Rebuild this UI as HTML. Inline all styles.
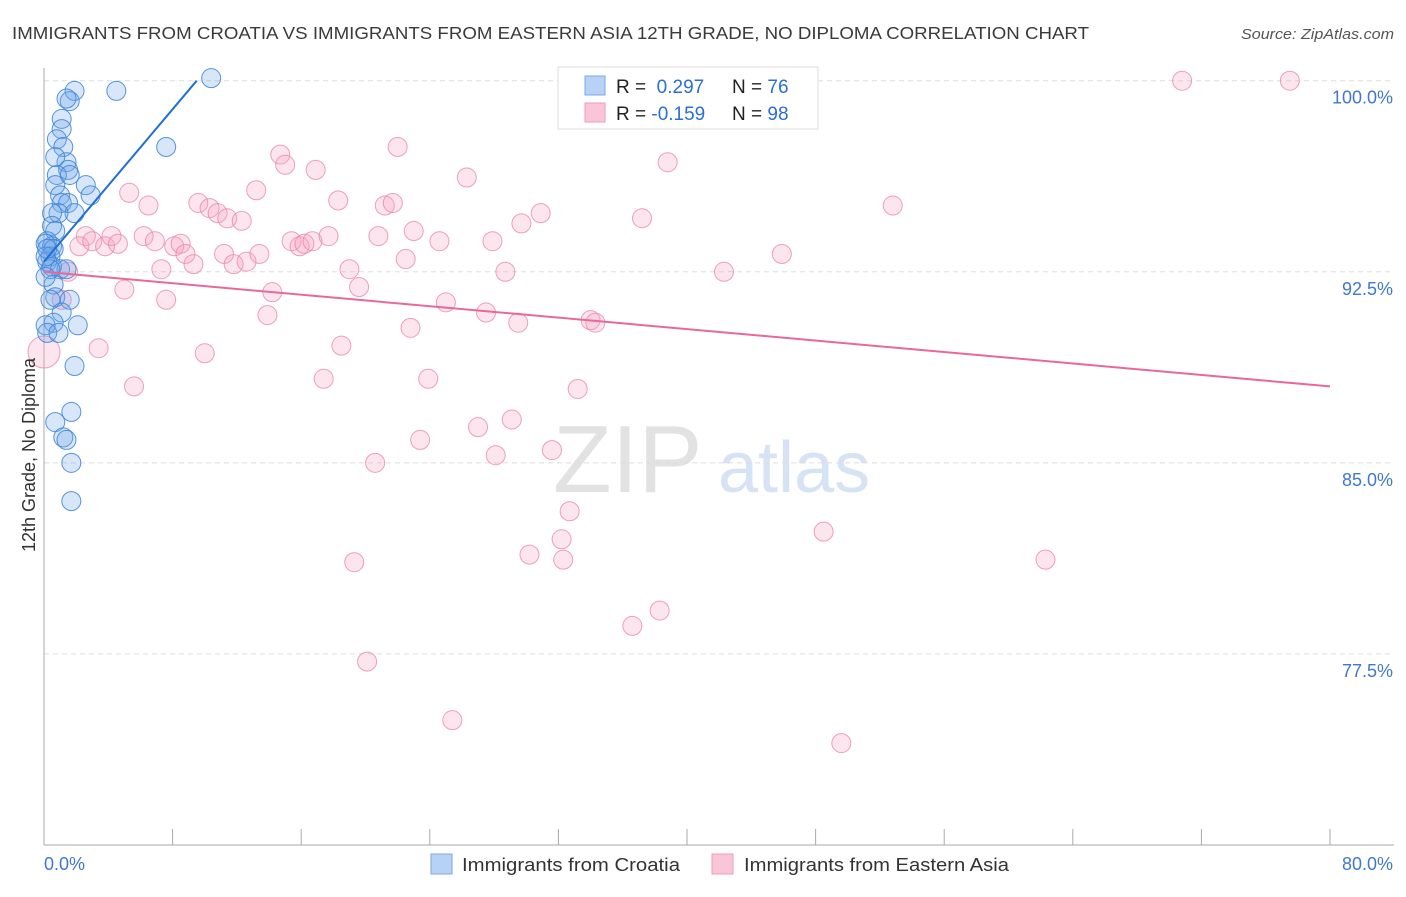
<!DOCTYPE html>
<html><head><meta charset="utf-8">
<style>
body{margin:0;background:#fff;width:1406px;height:892px;overflow:hidden;font-family:"Liberation Sans",sans-serif;}
svg text{font-family:"Liberation Sans",sans-serif;}
</style></head>
<body>
<svg id="chart" width="1406" height="892" viewBox="0 0 1406 892" xmlns="http://www.w3.org/2000/svg">
<text x="12" y="39" font-size="17.5" fill="#3a3a3a" textLength="1077" lengthAdjust="spacingAndGlyphs">IMMIGRANTS FROM CROATIA VS IMMIGRANTS FROM EASTERN ASIA 12TH GRADE, NO DIPLOMA CORRELATION CHART</text>
<text x="1394" y="39" font-size="15" fill="#555" font-style="italic" text-anchor="end" textLength="153" lengthAdjust="spacingAndGlyphs">Source: ZipAtlas.com</text>
<g>
<text x="553" y="492" font-size="96" fill="#e2e2e2" font-family="Liberation Serif, serif">ZIP</text>
<text x="718" y="492" font-size="72" fill="#d6e3f5">atlas</text>
</g>
<g id="grid"></g>
<g id="axes"></g>
<g id="marks"></g>
<text transform="translate(35,455) rotate(-90)" font-size="18" fill="#333" text-anchor="middle">12th Grade, No Diploma</text>
<g>
<rect x="558" y="67" width="260" height="62" fill="#fff" stroke="#ddd"/>
<rect x="585" y="76" width="20" height="19" fill="#b7d2f5" stroke="#7aaae6"/>
<rect x="585" y="103" width="20" height="19" fill="#fac6d6" stroke="#f09ab8"/>
<text x="616" y="93" font-size="19" fill="#222">R = <tspan fill="#2a6fd1">&#160;0.297</tspan></text>
<text x="732" y="93" font-size="19" fill="#222">N = <tspan fill="#2a6fd1">76</tspan></text>
<text x="616" y="120" font-size="19" fill="#222">R = <tspan fill="#2a6fd1">-0.159</tspan></text>
<text x="732" y="120" font-size="19" fill="#222">N = <tspan fill="#2a6fd1">98</tspan></text>
</g>
<g>
<rect x="431" y="854" width="21" height="20" fill="#b7d2f5" stroke="#7aaae6"/>
<text x="462" y="871" font-size="18.5" fill="#333" textLength="218" lengthAdjust="spacingAndGlyphs">Immigrants from Croatia</text>
<rect x="712" y="854" width="21" height="20" fill="#fac6d6" stroke="#f09ab8"/>
<text x="744" y="871" font-size="18.5" fill="#333" textLength="265" lengthAdjust="spacingAndGlyphs">Immigrants from Eastern Asia</text>
</g>
</svg>
<script>
const yTicks=[100,92.5,85,77.5];
const yTickLabels=["100.0%","92.5%","85.0%","77.5%"];
const xTickLabels=["0.0%","80.0%"];
const blueX=[1.9,1.6,1.4,4.5,10.4,7.6,1.1,1.1,0.8,1.2,1.4,0.7,1.5,0.8,1.6,0.7,2.6,2.9,1.0,1.1,1.5,1.9,0.9,0.5,0.5,0.7,0.2,0.5,0.1,0.6,0.4,0.2,0.5,1.0,1.4,0.6,0.7,1.6,0.4,1.1,0.6,2.1,0.1,0.2,0.9,1.9,1.7,0.7,1.2,1.4,1.7,1.7,0.4,0.1,0.1,0.2];
const blueY=[99.6,99.2,99.3,99.6,100.1,97.4,98.5,98.1,97.7,97.4,96.8,97.0,96.5,96.3,96.3,95.9,95.9,95.5,95.5,95.2,95.2,94.8,94.8,94.8,94.3,94.1,93.7,93.5,93.6,93.4,93.1,92.9,92.7,92.6,92.6,92.0,91.5,91.4,91.4,90.9,90.5,90.4,90.4,90.1,90.1,88.8,87.0,86.6,86.0,85.9,85.0,83.5,92.6,92.3,93.1,93.4];
const pinkX=[0.0,1.5,1.1,2.6,2.2,3.0,3.8,4.2,4.6,3.4,5.3,5.0,5.6,6.5,6.2,6.9,7.3,7.6,8.1,8.5,8.8,9.3,9.6,10.0,10.3,10.8,11.2,11.4,11.8,12.3,12.6,13.2,13.4,13.9,14.2,14.7,15.0,15.4,15.9,16.2,16.7,16.9,17.4,17.7,18.3,18.5,19.0,19.3,19.6,20.1,20.6,20.8,21.2,21.7,22.0,22.5,22.8,23.0,23.4,23.9,24.6,25.0,25.4,26.3,27.0,27.5,27.9,28.1,28.7,29.1,29.5,29.7,30.2,30.9,31.6,32.2,32.3,32.7,33.2,34.0,34.3,36.6,37.2,38.3,38.8,42.3,45.9,48.5,49.6,52.8,62.3,70.8,77.5,37.8,43.1,39.3];
const pinkY=[89.35,92.5,91.4,93.9,93.5,93.7,93.5,93.9,93.6,89.5,95.6,91.8,88.0,95.1,93.9,93.7,92.6,91.4,93.5,93.6,93.2,92.8,95.2,89.3,95.0,94.8,93.2,94.6,92.8,94.5,92.9,95.7,93.2,90.8,91.7,97.1,96.7,93.7,93.5,93.6,93.7,96.5,88.3,93.9,95.3,89.6,92.6,81.1,91.9,77.2,85.0,93.9,95.1,95.2,97.4,93.0,90.3,94.1,85.9,88.3,93.7,91.3,74.9,96.2,86.4,90.9,93.7,85.3,92.5,86.7,90.5,94.4,81.4,94.8,85.5,82.0,81.2,83.1,87.9,90.6,90.5,78.6,94.6,79.2,96.8,92.5,93.2,82.3,74.0,95.1,81.2,100.0,100.0,100.0,100.0,99.6];
const blueTrendX=[0,9.5];
const blueTrendY=[92.9,100];
const pinkTrendX=[0,80];
const pinkTrendY=[92.5,88.0];

const NS="http://www.w3.org/2000/svg";
const X0=44,X1=1330,YTOP=80.7,YBOT=845;
function sx(v){return X0+(v/80)*(X1-X0);}
function sy(v){return YTOP+(100-v)/30*(YBOT-YTOP);}
function mk(tag,attrs,parent){const e=document.createElementNS(NS,tag);for(const k in attrs)e.setAttribute(k,attrs[k]);parent.appendChild(e);return e;}
const grid=document.getElementById('grid'),axes=document.getElementById('axes'),marks=document.getElementById('marks');
yTicks.forEach((t,i)=>{
  const l=mk('line',{x1:X0,x2:1394,y1:sy(t),y2:sy(t),stroke:'#ddd','stroke-dasharray':'5,4'},grid);
  
  
  const tx=mk('text',{x:1393,y:sy(t)+23,'font-size':18,fill:'#3f78d0','text-anchor':'end'},axes);
  tx.textContent=yTickLabels[i];
  
  
});
const ax=mk('line',{x1:X0,x2:X0,y1:68,y2:YBOT,stroke:'#aaa'},axes);


const bx=mk('line',{x1:X0,x2:1394,y1:YBOT,y2:YBOT,stroke:'#aaa'},axes);


for(let i=0;i<=10;i++){
  const v=i*8;
  const t=mk('line',{x1:sx(v),x2:sx(v),y1:YBOT-16,y2:YBOT,stroke:'#aaa'},axes);
  
  
}
const xl0=mk('text',{x:44,y:870,'font-size':18,fill:'#3f78d0'},axes);xl0.textContent=xTickLabels[0];


const xl1=mk('text',{x:1393,y:870,'font-size':18,fill:'#3f78d0','text-anchor':'end'},axes);xl1.textContent=xTickLabels[1];



pinkX.forEach((x,i)=>{
  const r=(i===0)?16:9.5;
  const c=mk('circle',{cx:sx(x),cy:sy(pinkY[i]),r:r,fill:'rgba(246,160,190,0.28)',stroke:'rgba(232,130,165,0.75)','stroke-width':1},marks);
  
  
});
blueX.forEach((x,i)=>{
  const c=mk('circle',{cx:sx(x),cy:sy(blueY[i]),r:9.5,fill:'rgba(110,165,235,0.28)',stroke:'rgba(60,130,215,0.85)','stroke-width':1},marks);
  
  
});
const bt=mk('line',{x1:sx(blueTrendX[0]),y1:sy(blueTrendY[0]),x2:sx(blueTrendX[1]),y2:sy(blueTrendY[1]),stroke:'#1f6fd6','stroke-width':2},marks);


const pt=mk('line',{x1:sx(pinkTrendX[0]),y1:sy(pinkTrendY[0]),x2:sx(pinkTrendX[1]),y2:sy(pinkTrendY[1]),stroke:'#e8689a','stroke-width':2},marks);


</script>
</body></html>
